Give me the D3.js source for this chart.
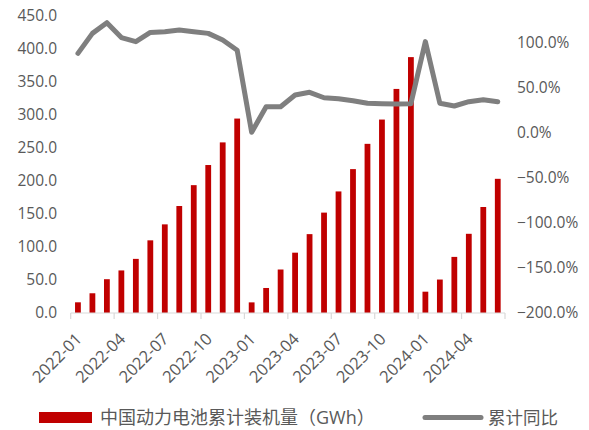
<!DOCTYPE html>
<html>
<head>
<meta charset="utf-8">
<script src="https://cdn.jsdelivr.net/npm/d3@7"></script>
<style>
  html, body { margin: 0; padding: 0; background: #fff; }
  svg text { font-family: "Open Sans", "Noto Sans CJK SC", sans-serif; fill: #595959; }
</style>
</head>
<body>
<div id="chart"></div>
<script>
// 月份
var months = ['2022-01','2022-02','2022-03','2022-04','2022-05','2022-06','2022-07','2022-08','2022-09','2022-10','2022-11','2022-12',
              '2023-01','2023-02','2023-03','2023-04','2023-05','2023-06','2023-07','2023-08','2023-09','2023-10','2023-11','2023-12',
              '2024-01','2024-02','2024-03','2024-04','2024-05','2024-06'];
var tickMonths = ['2022-01','2022-04','2022-07','2022-10','2023-01','2023-04','2023-07','2023-10','2024-01','2024-04'];

// 累计装机量 GWh
var installed = [16.2, 29.9, 51.2, 64.5, 82.0, 110.1, 134.3, 162.1, 193.7, 224.2, 258.5, 294.6,
                 16.1, 37.9, 65.9, 91.4, 119.5, 152.1, 184.2, 218.0, 256.3, 293.1, 339.5, 387.7,
                 32.3, 50.7, 85.0, 120.0, 160.6, 203.3];
// 累计同比 %
var yoy = [88.5, 110.7, 122.6, 106.0, 101.5, 111.8, 112.6, 114.4, 112.6, 110.7, 103.3, 92.0,
           0.8, 29.2, 29.2, 42.2, 45.2, 39.2, 38.1, 35.9, 33.0, 32.6, 32.2, 32.6,
           101.5, 33.0, 30.0, 34.8, 37.0, 34.8];

var leftTicks = [0, 50, 100, 150, 200, 250, 300, 350, 400, 450];
var rightTicks = [-200, -150, -100, -50, 0, 50, 100];

var W = 589, H = 430;
var plot = {left: 70.7, right: 505, top: 16, bottom: 313};

var svg = d3.select('#chart').append('svg')
    .attr('width', W).attr('height', H);

var x = d3.scaleBand()
    .domain(months)
    .range([plot.left, plot.right])
    .paddingInner(0.6)
    .paddingOuter(0.3);

var yL = d3.scaleLinear().domain([0, 450]).range([plot.bottom, plot.top]);
var yR = d3.scaleLinear().domain([-200, 130]).range([plot.bottom, plot.top]);

// bars
svg.append('g').selectAll('rect')
    .data(months)
    .enter().append('rect')
    .attr('x', d => x(d))
    .attr('width', x.bandwidth())
    .attr('y', (d, i) => yL(installed[i]))
    .attr('height', (d, i) => yL(0) - yL(installed[i]))
    .attr('fill', '#c00000');

// x axis line + ticks every 3 months
var step = x.step();
var xAxis = svg.append('g');
xAxis.append('line')
    .attr('x1', plot.left).attr('x2', plot.right)
    .attr('y1', plot.bottom).attr('y2', plot.bottom)
    .attr('stroke', '#d9d9d9').attr('stroke-width', 1.2);
xAxis.selectAll('line.tick')
    .data(d3.range(0, months.length + 1, 3))
    .enter().append('line')
    .attr('class', 'tick')
    .attr('x1', i => plot.left + i * step).attr('x2', i => plot.left + i * step)
    .attr('y1', plot.bottom).attr('y2', plot.bottom + 6)
    .attr('stroke', '#d9d9d9').attr('stroke-width', 1.2);
xAxis.selectAll('text')
    .data(tickMonths)
    .enter().append('text')
    .attr('text-anchor', 'end')
    .attr('font-size', 16.5)
    .attr('transform', d => 'translate(' + (x(d) + x.bandwidth() / 2 + 5) + ',' + 340 + ') rotate(-45)')
    .text(d => d);

// left axis labels
svg.append('g').selectAll('text')
    .data(leftTicks)
    .enter().append('text')
    .attr('x', 57)
    .attr('y', d => yL(d))
    .attr('dy', '0.35em')
    .attr('text-anchor', 'end')
    .attr('font-size', 15.5)
    .text(d => d3.format('.1f')(d));

// right axis labels
svg.append('g').selectAll('text')
    .data(rightTicks)
    .enter().append('text')
    .attr('x', 517)
    .attr('y', d => yR(d))
    .attr('dy', '0.35em')
    .attr('font-size', 15.5)
    .text(d => d3.format('.1f')(d) + '%');

// yoy line
var line = d3.line()
    .x((d, i) => x(months[i]) + x.bandwidth() / 2)
    .y(d => yR(d));

svg.append('path')
    .datum(yoy)
    .attr('d', line)
    .attr('fill', 'none')
    .attr('stroke', '#7f7f7f')
    .attr('stroke-width', 5)
    .attr('stroke-linejoin', 'round')
    .attr('stroke-linecap', 'round');

// legend
var lg = svg.append('g');
lg.append('rect')
    .attr('x', 39).attr('y', 412).attr('width', 53).attr('height', 11)
    .attr('fill', '#c00000');
lg.append('text')
    .attr('x', 100).attr('y', 417.5).attr('dy', '0.35em')
    .attr('font-size', 18)
    .text('中国动力电池累计装机量（GWh）');
lg.append('line')
    .attr('x1', 425).attr('x2', 481).attr('y1', 417.5).attr('y2', 417.5)
    .attr('stroke', '#7f7f7f').attr('stroke-width', 5).attr('stroke-linecap', 'round');
lg.append('text')
    .attr('x', 488).attr('y', 417.5).attr('dy', '0.35em')
    .attr('font-size', 17.5)
    .text('累计同比');
</script>
</body>
</html>
